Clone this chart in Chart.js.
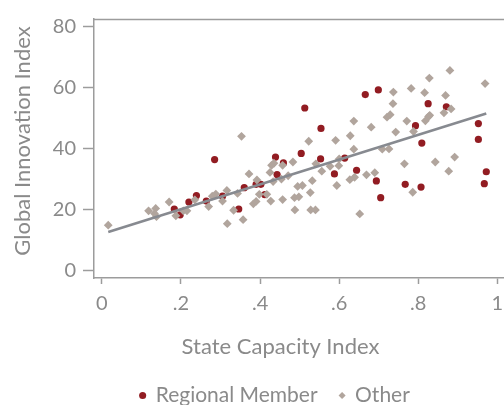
<!DOCTYPE html>
<html>
<head>
<meta charset="utf-8">
<script src="https://cdn.jsdelivr.net/npm/chart.js@4.4.1/dist/chart.umd.min.js"></script>
<style>
  html, body { margin: 0; padding: 0; background: #fff; overflow: hidden; }
  #wrap { position: absolute; left: 0; top: 0; }
</style>
</head>
<body>
<div id="wrap"><canvas id="chart" width="550" height="416"></canvas></div>
<script>
// Regional members (red dots)
const memberX = [0.183, 0.198, 0.220, 0.239, 0.264, 0.305, 0.285, 0.346, 0.360, 0.390,
                 0.402, 0.412, 0.439, 0.443, 0.459, 0.504, 0.513, 0.553, 0.554, 0.588,
                 0.614, 0.644, 0.666, 0.694, 0.699, 0.705, 0.767, 0.793, 0.807, 0.809,
                 0.825, 0.871, 0.952, 0.952, 0.967, 0.972];
const memberY = [20.2, 18.3, 22.5, 24.6, 22.8, 24.4, 36.4, 20.2, 27.2, 28.3,
                 28.3, 24.9, 37.2, 31.5, 35.3, 38.4, 53.3, 36.6, 46.6, 31.7,
                 36.9, 32.9, 57.7, 29.4, 59.2, 23.9, 28.3, 47.5, 27.4, 41.8,
                 54.7, 53.7, 48.2, 43.0, 28.5, 32.4];

// Other countries (diamonds)
const otherX = [0.016, 0.118, 0.136, 0.133, 0.138, 0.170, 0.187, 0.206, 0.215, 0.235,
                0.270, 0.279, 0.288, 0.305, 0.316, 0.317, 0.333, 0.343, 0.357, 0.353,
                0.372, 0.383, 0.390, 0.392, 0.398, 0.417, 0.427, 0.425, 0.429, 0.435,
                0.433, 0.454, 0.457, 0.457, 0.471, 0.483, 0.495, 0.507, 0.487, 0.498,
                0.488, 0.523, 0.532, 0.527, 0.528, 0.540, 0.541, 0.556, 0.577, 0.599,
                0.600, 0.591, 0.594, 0.627, 0.639, 0.628, 0.637, 0.637, 0.652, 0.669,
                0.690, 0.681, 0.709, 0.726, 0.721, 0.729, 0.737, 0.736, 0.743, 0.765,
                0.771, 0.782, 0.786, 0.788, 0.816, 0.818, 0.826, 0.829, 0.828, 0.843,
                0.865, 0.869, 0.877, 0.880, 0.883, 0.892, 0.969];
const otherY = [14.9, 19.6, 20.4, 18.7, 17.7, 22.5, 18.0, 19.6, 19.6, 23.2,
                21.0, 24.4, 25.1, 22.8, 26.3, 15.4, 19.8, 25.3, 16.7, 44.0,
                31.7, 21.9, 22.7, 29.7, 25.0, 25.0, 22.8, 32.2, 34.5, 35.2,
                29.2, 30.0, 34.5, 23.3, 31.1, 35.6, 27.6, 27.9, 23.9, 24.2,
                19.9, 42.4, 29.5, 25.6, 19.9, 19.9, 35.0, 32.6, 34.2, 34.4,
                36.6, 42.7, 27.9, 29.8, 30.6, 44.2, 39.8, 49.0, 18.6, 31.4,
                32.1, 47.0, 39.8, 39.9, 50.3, 51.1, 58.5, 54.7, 45.4, 35.0,
                49.0, 59.7, 25.7, 45.6, 58.3, 49.1, 50.5, 50.9, 63.1, 35.6,
                51.7, 57.4, 32.6, 65.6, 53.0, 37.2, 61.3];

// Fitted line end points
const fitX = [0.016, 0.972];
const fitY = [12.7, 51.5];

const xTicks = [0, 0.2, 0.4, 0.6, 0.8, 1];
const xTickLabels = ['0', '.2', '.4', '.6', '.8', '1'];
const yTicks = [0, 20, 40, 60, 80];

const seriesNames = ['Regional Member', 'Other'];
const xTitle = 'State Capacity Index';
const yTitle = 'Global Innovation Index';

const textColor = '#8a8a8a';
const axisColor = '#9c9c9c';
const fontFamily = 'Lato, "Open Sans", sans-serif';

function toPoints(xs, ys) {
    return xs.map((x, i) => ({ x: x, y: ys[i] }));
}

// top frame line + axis titles
const framePlugin = {
    id: 'frameAndTitles',
    beforeDatasetsDraw(chart) {
        const { ctx, chartArea } = chart;
        ctx.save();
        ctx.strokeStyle = axisColor;
        ctx.lineWidth = 1.5;
        ctx.beginPath();
        ctx.moveTo(chartArea.left, chartArea.top + 0.5);
        ctx.lineTo(chartArea.right, chartArea.top + 0.5);
        ctx.stroke();
        ctx.restore();
    },
    afterDraw(chart) {
        const ctx = chart.ctx;
        ctx.save();
        ctx.fillStyle = textColor;
        ctx.font = '22px ' + fontFamily;
        ctx.textAlign = 'center';
        ctx.textBaseline = 'alphabetic';
        ctx.fillText(xTitle, 280.5, 354);
        ctx.translate(30, 141);
        ctx.rotate(-Math.PI / 2);
        ctx.fillText(yTitle, 0, 0);
        ctx.restore();
    }
};

function draw() {
    const ctx = document.getElementById('chart');
    new Chart(ctx, {
        type: 'scatter',
        data: {
            datasets: [{
                label: seriesNames[0],
                data: toPoints(memberX, memberY),
                pointStyle: 'circle',
                pointRadius: 3.6,
                backgroundColor: '#921c22',
                borderColor: '#921c22',
                borderWidth: 0,
                order: 2
            }, {
                label: seriesNames[1],
                data: toPoints(otherX, otherY),
                pointStyle: 'rectRot',
                pointRadius: 4.4,
                backgroundColor: '#b1a59d',
                borderColor: '#b1a59d',
                borderWidth: 0,
                order: 1
            }, {
                label: 'fit',
                data: toPoints(fitX, fitY),
                showLine: true,
                pointRadius: 0,
                borderColor: '#878a90',
                borderWidth: 2.6,
                order: 0
            }]
        },
        options: {
            responsive: false,
            animation: false,
            layout: { padding: { top: 13, left: 0, right: 0, bottom: 0 } },
            plugins: {
                tooltip: { enabled: false },
                legend: {
                    position: 'bottom',
                    labels: {
                        usePointStyle: true,
                        boxWidth: 5,
                        boxHeight: 5,
                        padding: 22,
                        color: textColor,
                        font: { family: fontFamily, size: 21 },
                        filter: item => item.datasetIndex < 2,
                        sort: (a, b) => a.datasetIndex - b.datasetIndex
                    }
                }
            },
            scales: {
                x: {
                    type: 'linear',
                    min: -0.02,
                    max: 1.122,
                    afterBuildTicks: s => { s.ticks = xTicks.map(v => ({ value: v })); },
                    afterFit: s => { s.height = 85; },
                    grid: { drawOnChartArea: false, tickLength: 6, tickColor: axisColor, tickWidth: 1.5 },
                    border: { color: axisColor, width: 1.5 },
                    ticks: {
                        color: textColor,
                        padding: 8,
                        maxRotation: 0,
                        font: { family: fontFamily, size: 20 },
                        callback: (v, i) => xTickLabels[i]
                    }
                },
                y: {
                    min: -2.4,
                    max: 82.45,
                    afterBuildTicks: s => { s.ticks = yTicks.map(v => ({ value: v })); },
                    afterFit: s => { s.width = 94; },
                    grid: { drawOnChartArea: false, tickLength: 11, tickColor: axisColor, tickWidth: 1.5 },
                    border: { color: axisColor, width: 1.5 },
                    ticks: {
                        color: textColor,
                        padding: 7,
                        font: { family: fontFamily, size: 20 }
                    }
                }
            }
        },
        plugins: [framePlugin]
    });
}

document.fonts.load('20px Lato').then(draw, draw);
</script>
</body>
</html>
